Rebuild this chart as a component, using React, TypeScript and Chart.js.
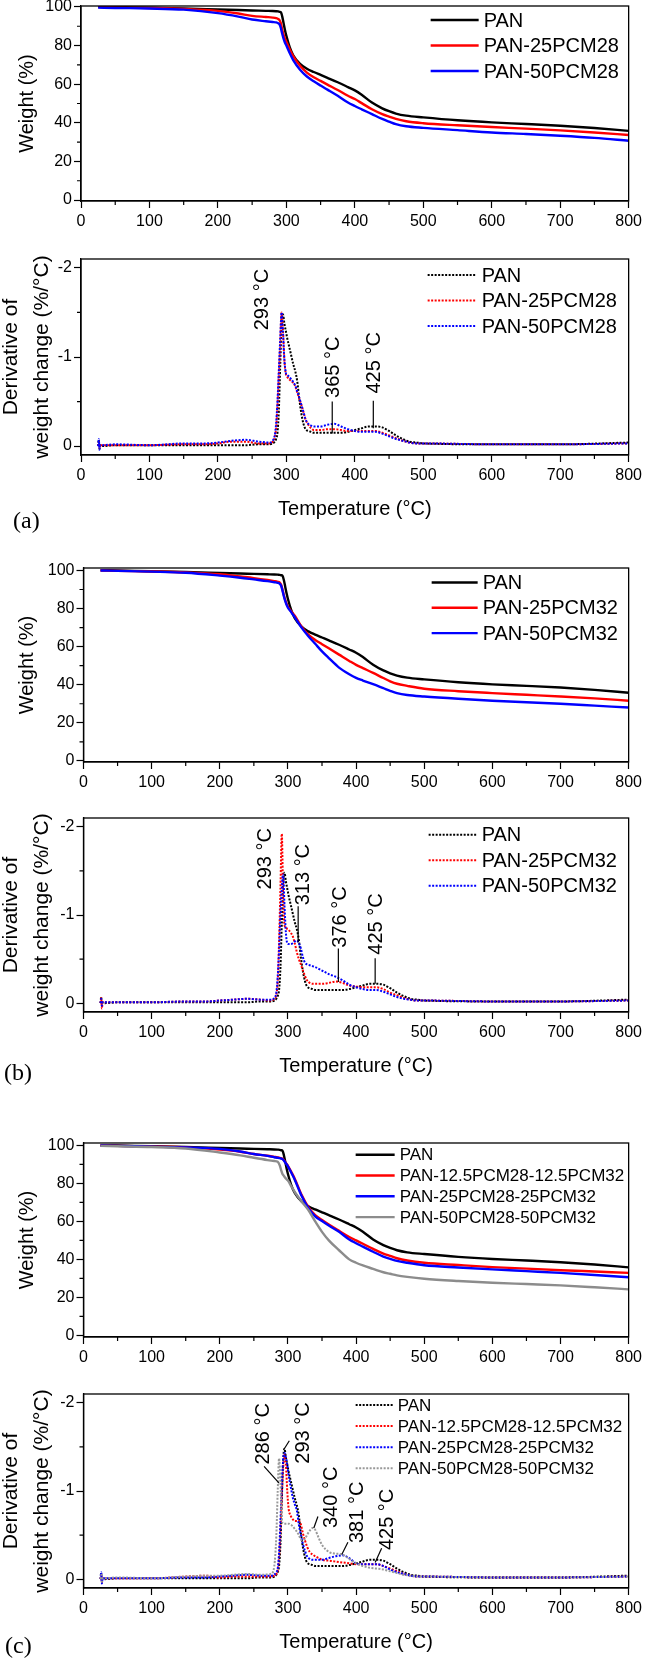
import { useEffect, useRef } from 'react';
import { Chart, registerables } from 'chart.js';

Chart.register(...registerables);

const FONT = '"Liberation Sans", Arial, Helvetica, sans-serif';
Chart.defaults.font.family = FONT;

// temperature grids (°C)
const tempW = [25, 50, 100, 150, 200, 230, 250, 270, 280, 285, 288, 290, 292, 294, 296, 298, 300, 305, 310, 320, 330, 340, 350, 360, 375, 390, 400, 410, 425, 440, 450, 460, 475, 500, 550, 600, 650, 700, 750, 800];
const tempD = [25, 26, 27, 28, 30, 50, 100, 150, 180, 200, 220, 240, 260, 275, 280, 283, 285, 287, 289, 291, 293, 295, 297, 299, 301, 304, 307, 310, 313, 316, 319, 322, 325, 328, 332, 336, 340, 345, 350, 360, 370, 380, 390, 400, 410, 420, 430, 440, 450, 460, 470, 480, 490, 500, 600, 700, 800];

// tick values
const xTicks = [0, 100, 200, 300, 400, 500, 600, 700, 800];
const xMinor = [50, 150, 250, 350, 450, 550, 650, 750];
const weightTicks = [0, 20, 40, 60, 80, 100];
const weightMinor = [10, 30, 50, 70, 90];
const derivTicks = [-2, -1, 0];
const derivMinor = [-1.5, -0.5];

// weight (%)
const wPAN = [100.2, 100, 99.6, 99.2, 98.7, 98.4, 98.2, 98.0, 97.9, 97.8, 97.7, 97.5, 97.2, 95, 91.5, 88, 85, 79, 75, 70.5, 68, 66.3, 64.8, 63.3, 61, 58.5, 56.8, 54.5, 50.5, 47.5, 46, 44.8, 43.7, 42.8, 41.3, 40.2, 39.4, 38.5, 37.3, 35.8];
const w25PCM28 = [100, 99.8, 99.5, 99, 98, 96.6, 95.4, 94.8, 94.5, 94.2, 93.8, 93.2, 91.5, 88, 85.5, 83.5, 82, 78, 74.5, 69.5, 66, 63.6, 61.7, 59.8, 57, 54, 52.3, 50.2, 47, 44.5, 43.2, 42, 40.8, 39.8, 38.7, 37.8, 37, 36.1, 35, 33.7];
const w50PCM28 = [99.7, 99.5, 99.2, 98.6, 96.8, 95, 93.5, 92.6, 92.2, 92, 91.6, 91, 89, 86, 83.5, 81.5, 80, 76, 72.5, 67.5, 64, 61.5, 59.3, 57.2, 54, 50.5, 48.7, 47, 44.5, 42, 40.6, 39.3, 38.2, 37.4, 36.2, 35, 34.2, 33.3, 32.2, 30.7];
const w25PCM32 = [100, 99.8, 99.5, 99, 98, 96.8, 96, 95, 94.4, 94, 93.6, 92.5, 90, 87, 84.5, 82.5, 81, 78.5, 76.3, 70.5, 66.3, 63.5, 61.3, 59.1, 55.8, 52.5, 50.4, 48.7, 46.2, 43.5, 41.8, 40.5, 39.4, 37.9, 36.6, 35.6, 34.7, 33.8, 32.8, 31.6];
const w50PCM32 = [100, 99.8, 99.4, 98.8, 97.3, 96.2, 95.3, 94.4, 93.8, 93.5, 93, 92, 89.5, 86.5, 84, 82, 80.5, 78, 75.5, 70, 65.5, 61.5, 57.5, 54, 49, 45.5, 43.6, 42.2, 40.3, 38.2, 36.8, 35.6, 34.6, 33.8, 32.6, 31.6, 30.8, 30, 29, 28];
const w12Mix = [100, 99.8, 99.4, 99, 97.8, 96.7, 95.5, 94.6, 94, 93.7, 93.5, 93.3, 93, 92.3, 91.3, 90.3, 89.3, 86, 82.5, 74, 67.5, 63.3, 60.7, 58.3, 55, 51.8, 50, 48.2, 45.5, 43, 41.8, 40.6, 39.4, 38.2, 37, 35.9, 35.1, 34.3, 33.6, 32.9];
const w25Mix = [100, 99.8, 99.4, 99, 98.2, 96.8, 95.5, 94.5, 93.8, 93.5, 93.3, 93.1, 92.8, 92.1, 91.1, 90.1, 89, 85.6, 82, 73.5, 67, 62.7, 60.2, 57.8, 54.5, 50.5, 48.5, 46.7, 44, 41.5, 40.3, 39.2, 38.2, 36.9, 35.7, 34.7, 33.8, 32.9, 31.8, 30.6];
const w50Mix = [99.8, 99.6, 99.2, 98.4, 96.3, 94.8, 93.5, 92.3, 91.8, 91.4, 89.5, 87, 85, 84, 83, 82.2, 81.5, 78.5, 75.5, 70.5, 66, 60, 54.5, 50, 44.8, 40, 38.2, 36.8, 35, 33.2, 32.4, 31.6, 30.8, 29.8, 28.6, 27.7, 27, 26.3, 25.3, 24.2];

// derivative of weight change (%/°C)
const dPAN = [0, -0.07, 0.03, -0.01, 0, -0.01, -0.01, -0.01, -0.01, -0.01, -0.01, -0.01, -0.02, -0.02, -0.03, -0.05, -0.08, -0.15, -0.4, -0.9, -1.35, -1.48, -1.38, -1.3, -1.22, -1.12, -1.02, -0.92, -0.84, -0.72, -0.52, -0.36, -0.25, -0.19, -0.17, -0.16, -0.15, -0.15, -0.15, -0.15, -0.15, -0.15, -0.16, -0.18, -0.2, -0.22, -0.22, -0.21, -0.17, -0.12, -0.08, -0.05, -0.04, -0.03, -0.02, -0.02, -0.04];
const d25PCM28 = [0, -0.05, 0.02, -0.01, -0.01, -0.01, -0.01, -0.02, -0.02, -0.03, -0.05, -0.05, -0.03, -0.03, -0.05, -0.1, -0.2, -0.45, -0.8, -1.15, -1.5, -1.3, -0.98, -0.82, -0.78, -0.75, -0.73, -0.71, -0.67, -0.6, -0.53, -0.46, -0.38, -0.3, -0.24, -0.2, -0.18, -0.18, -0.18, -0.19, -0.19, -0.18, -0.17, -0.17, -0.17, -0.17, -0.17, -0.15, -0.12, -0.09, -0.06, -0.04, -0.03, -0.03, -0.02, -0.02, -0.03];
const d50PCM28 = [0, -0.08, 0.04, -0.01, -0.01, -0.02, -0.01, -0.03, -0.03, -0.04, -0.06, -0.07, -0.05, -0.04, -0.06, -0.12, -0.25, -0.5, -0.85, -1.2, -1.5, -1.28, -0.98, -0.83, -0.8, -0.78, -0.75, -0.72, -0.68, -0.61, -0.54, -0.46, -0.38, -0.3, -0.25, -0.23, -0.22, -0.22, -0.22, -0.24, -0.25, -0.22, -0.19, -0.17, -0.16, -0.16, -0.16, -0.14, -0.11, -0.08, -0.06, -0.04, -0.03, -0.03, -0.02, -0.02, -0.03];
const d25PCM32 = [0, -0.06, 0.06, -0.01, -0.01, -0.01, -0.01, -0.02, -0.02, -0.03, -0.04, -0.05, -0.04, -0.03, -0.05, -0.1, -0.25, -0.7, -1.3, -1.92, -1.2, -0.88, -0.86, -0.84, -0.83, -0.8, -0.76, -0.68, -0.58, -0.5, -0.44, -0.37, -0.31, -0.26, -0.23, -0.22, -0.22, -0.22, -0.22, -0.23, -0.245, -0.23, -0.2, -0.19, -0.18, -0.18, -0.18, -0.16, -0.12, -0.09, -0.06, -0.04, -0.03, -0.03, -0.02, -0.02, -0.03];
const d50PCM32 = [0, -0.05, 0.03, -0.01, -0.01, -0.01, -0.01, -0.02, -0.02, -0.03, -0.04, -0.05, -0.04, -0.04, -0.06, -0.12, -0.3, -0.6, -1.0, -1.3, -1.46, -1.1, -0.8, -0.68, -0.67, -0.67, -0.68, -0.7, -0.71, -0.68, -0.62, -0.52, -0.46, -0.44, -0.43, -0.42, -0.41, -0.39, -0.37, -0.33, -0.3, -0.26, -0.21, -0.18, -0.16, -0.15, -0.15, -0.13, -0.1, -0.07, -0.05, -0.04, -0.03, -0.03, -0.02, -0.02, -0.03];
const d12Mix = [0, -0.06, 0.04, -0.01, -0.01, -0.01, -0.01, -0.03, -0.04, -0.02, -0.03, -0.03, -0.03, -0.03, -0.04, -0.06, -0.1, -0.25, -0.55, -0.95, -1.25, -1.41, -1.3, -1.0, -0.8, -0.72, -0.68, -0.66, -0.66, -0.66, -0.62, -0.52, -0.44, -0.37, -0.31, -0.28, -0.26, -0.24, -0.22, -0.21, -0.2, -0.19, -0.18, -0.17, -0.17, -0.17, -0.17, -0.15, -0.12, -0.09, -0.06, -0.04, -0.03, -0.03, -0.02, -0.02, -0.03];
const d25Mix = [0, -0.08, 0.05, -0.01, -0.01, -0.01, -0.01, -0.02, -0.02, -0.03, -0.04, -0.05, -0.04, -0.04, -0.05, -0.08, -0.12, -0.3, -0.65, -1.05, -1.35, -1.43, -1.38, -1.3, -1.18, -1.05, -0.93, -0.85, -0.78, -0.62, -0.5, -0.4, -0.32, -0.26, -0.23, -0.22, -0.22, -0.22, -0.22, -0.24, -0.26, -0.27, -0.24, -0.18, -0.17, -0.17, -0.17, -0.15, -0.11, -0.08, -0.06, -0.04, -0.03, -0.03, -0.02, -0.02, -0.03];
const d50Mix = [0, -0.05, 0.03, -0.01, -0.01, -0.02, -0.01, -0.03, -0.04, -0.04, -0.05, -0.06, -0.05, -0.06, -0.15, -0.5, -1.0, -1.37, -1.1, -0.7, -0.63, -0.63, -0.63, -0.63, -0.63, -0.62, -0.6, -0.57, -0.54, -0.5, -0.45, -0.44, -0.46, -0.5, -0.55, -0.58, -0.56, -0.47, -0.39, -0.31, -0.29, -0.28, -0.23, -0.18, -0.15, -0.13, -0.12, -0.11, -0.09, -0.07, -0.05, -0.04, -0.03, -0.03, -0.02, -0.02, -0.03];

// peak labels: text, text anchor (°C, value), optional leader line [x1, y1, x2, y2]
const notesA = [
  { text: '293 °C', tx: 264, ty: -1.3 },
  { text: '365 °C', tx: 367, ty: -0.54, line: [367, -0.5, 367, -0.14] },
  { text: '425 °C', tx: 427, ty: -0.59, line: [427, -0.51, 427, -0.2] },
];
const notesB = [
  { text: '293 °C', tx: 266, ty: -1.29 },
  { text: '313 °C', tx: 322, ty: -1.11, line: [315, -1.1, 315, -0.69] },
  { text: '376 °C', tx: 375, ty: -0.63, line: [374, -0.62, 374, -0.24] },
  { text: '425 °C', tx: 429, ty: -0.55, line: [428, -0.51, 428, -0.22] },
];
const notesC = [
  { text: '286 °C', tx: 262, ty: -1.3, line: [265, -1.28, 287, -1.09] },
  { text: '293 °C', tx: 321, ty: -1.31, line: [302, -1.57, 294, -1.47] },
  { text: '340 °C', tx: 363, ty: -0.58, line: [344, -0.71, 338, -0.58] },
  { text: '381 °C', tx: 400, ty: -0.41, line: [388, -0.42, 379, -0.28] },
  { text: '425 °C', tx: 444, ty: -0.33, line: [437.5, -0.35, 428, -0.19] },
];

const BLACK = '#000000';
const RED = '#ff0000';
const BLUE = '#0000ff';
const GRAY = '#8c8c8c';

type Series = { label: string; color: string; values: number[] };
type Note = { text: string; tx: number; ty: number; line?: number[] };
type LegendOpts = { dx: number; dy: number; gap: number; len: number; font: number };
type PanelProps = {
  kind: 'w' | 'd';
  temps: number[];
  series: Series[];
  box: number[]; // plot left, right, top, bottom in page pixels
  yRange: number[];
  legend: LegendOpts;
  notes?: Note[];
};

const PAD_TOP = 14;

function TgaPanel({ kind, temps, series, box, yRange, legend, notes }: PanelProps) {
  const chartRef = useRef<HTMLCanvasElement | null>(null);
  const isD = kind === 'd';
  const below = isD ? 66 : 40;
  const [pl, pr, pt, pb] = box;
  const cTop = pt - PAD_TOP;
  const cHeight = Math.round(pb + below - cTop);

  useEffect(() => {
    const ctx = chartRef.current?.getContext('2d');
    if (!ctx) return;

    // box frame + minor ticks
    const framePlugin = {
      id: 'frame',
      afterDraw(chart: any) {
        const { ctx: c, chartArea: a, scales } = chart;
        c.save();
        c.strokeStyle = '#000';
        c.lineWidth = 1.3;
        c.strokeRect(a.left, a.top, a.right - a.left, a.bottom - a.top);
        c.lineWidth = 1.2;
        c.beginPath();
        xMinor.forEach((v) => {
          const x = scales.x.getPixelForValue(v);
          c.moveTo(x, a.bottom);
          c.lineTo(x, a.bottom + 4);
        });
        (isD ? derivMinor : weightMinor).forEach((v) => {
          const y = scales.y.getPixelForValue(v);
          c.moveTo(a.left, y);
          c.lineTo(a.left - 4, y);
        });
        c.stroke();
        c.restore();
      },
    };

    const legendPlugin = {
      id: 'boxLegend',
      afterDraw(chart: any) {
        const { ctx: c, chartArea: a } = chart;
        c.save();
        chart.data.datasets.forEach((ds: any, i: number) => {
          const y = a.top + legend.dy + i * legend.gap;
          const x0 = a.right + legend.dx;
          c.strokeStyle = ds.borderColor;
          c.lineWidth = ds.borderWidth;
          c.setLineDash(ds.borderDash || []);
          c.beginPath();
          c.moveTo(x0, y);
          c.lineTo(x0 + legend.len, y);
          c.stroke();
          c.setLineDash([]);
          c.fillStyle = '#000';
          c.font = `${legend.font}px ${FONT}`;
          c.textAlign = 'left';
          c.textBaseline = 'middle';
          c.fillText(ds.label, x0 + legend.len + 5, y + 1);
        });
        c.restore();
      },
    };

    const notesPlugin = {
      id: 'peakNotes',
      afterDatasetsDraw(chart: any) {
        if (!notes) return;
        const { ctx: c, scales } = chart;
        const sx = scales.x;
        const sy = scales.y;
        c.save();
        notes.forEach((n) => {
          if (n.line) {
            c.strokeStyle = '#000';
            c.lineWidth = 1.2;
            c.beginPath();
            c.moveTo(sx.getPixelForValue(n.line[0]), sy.getPixelForValue(n.line[1]));
            c.lineTo(sx.getPixelForValue(n.line[2]), sy.getPixelForValue(n.line[3]));
            c.stroke();
          }
          c.save();
          c.translate(sx.getPixelForValue(n.tx), sy.getPixelForValue(n.ty));
          c.rotate(-Math.PI / 2);
          c.fillStyle = '#000';
          c.font = `20px ${FONT}`;
          c.textAlign = 'left';
          c.textBaseline = 'middle';
          c.fillText(n.text, 0, 1);
          c.restore();
        });
        c.restore();
      },
    };

    const config: any = {
      type: 'line',
      data: {
        datasets: series.map((s, i) => ({
          label: s.label,
          data: temps.map((t, j) => ({ x: t, y: s.values[j] })),
          borderColor: s.color,
          borderWidth: isD ? 2 : 2.4,
          borderDash: isD ? [2, 1.5] : [],
          pointRadius: 0,
          cubicInterpolationMode: 'monotone',
          order: -i,
        })),
      },
      options: {
        animation: false,
        responsive: false,
        events: [],
        layout: { padding: { top: PAD_TOP, left: 0, right: 646 - pr, bottom: 0 } },
        plugins: { legend: { display: false }, tooltip: { enabled: false } },
        scales: {
          x: {
            type: 'linear',
            min: 0,
            max: 800,
            afterBuildTicks: (s: any) => {
              s.ticks = xTicks.map((v) => ({ value: v }));
            },
            afterFit: (s: any) => {
              s.height = below;
            },
            grid: { drawOnChartArea: false, drawTicks: true, tickLength: 7, tickColor: '#000', tickWidth: 1.2 },
            border: { display: true, color: '#000', width: 1.3 },
            ticks: { color: '#000', font: { family: FONT, size: 16 }, padding: 4, maxRotation: 0, autoSkip: false },
            title: isD
              ? {
                  display: true,
                  text: 'Temperature (°C)',
                  color: '#000',
                  font: { family: FONT, size: 20, lineHeight: 1.2 },
                  padding: { top: 0, bottom: 0 },
                }
              : { display: false },
          },
          y: {
            type: 'linear',
            min: yRange[0],
            max: yRange[1],
            reverse: isD,
            afterBuildTicks: (s: any) => {
              s.ticks = (isD ? derivTicks : weightTicks).map((v) => ({ value: v }));
            },
            afterFit: (s: any) => {
              s.width = pl;
            },
            grid: { drawOnChartArea: false, drawTicks: true, tickLength: 7, tickColor: '#000', tickWidth: 1.2 },
            border: { display: true, color: '#000', width: 1.3 },
            ticks: { color: '#000', font: { family: FONT, size: 16 }, padding: 2, autoSkip: false },
            title: isD
              ? {
                  display: true,
                  text: ['Derivative of', 'weight change (%/°C)'],
                  color: '#000',
                  font: { family: FONT, size: 21, lineHeight: 1.5 },
                  padding: { top: -5, bottom: 0 },
                }
              : {
                  display: true,
                  text: 'Weight (%)',
                  color: '#000',
                  font: { family: FONT, size: 20, lineHeight: 1.2 },
                  padding: { top: 15, bottom: 0 },
                },
          },
        },
      },
      plugins: [framePlugin, legendPlugin, notesPlugin],
    };

    const myChart = new Chart(ctx, config);
    return () => {
      myChart.destroy();
    };
  }, []);

  return (
    <canvas
      ref={chartRef}
      width={646}
      height={cHeight}
      style={{ position: 'absolute', left: 0, top: cTop, width: 646, height: cHeight }}
    />
  );
}

const labelStyle = {
  position: 'absolute' as const,
  fontFamily: '"Liberation Serif", "Times New Roman", serif',
  fontSize: 24,
  lineHeight: '24px',
  color: '#000',
};

export default function App() {
  return (
    <div style={{ position: 'absolute', left: 0, top: 0, width: 646, height: 1658, background: '#fff', overflow: 'hidden' }}>
      <TgaPanel
        kind="w"
        temps={tempW}
        series={[
          { label: 'PAN', color: BLACK, values: wPAN },
          { label: 'PAN-25PCM28', color: RED, values: w25PCM28 },
          { label: 'PAN-50PCM28', color: BLUE, values: w50PCM28 },
        ]}
        box={[81, 630, 6, 201]}
        yRange={[-0.5, 100.5]}
        legend={{ dx: -198, dy: 14, gap: 25.5, len: 48, font: 20 }}
      />
      <TgaPanel
        kind="d"
        temps={tempD}
        series={[
          { label: 'PAN', color: BLACK, values: dPAN },
          { label: 'PAN-25PCM28', color: RED, values: d25PCM28 },
          { label: 'PAN-50PCM28', color: BLUE, values: d50PCM28 },
        ]}
        box={[81, 630, 259, 455]}
        yRange={[-2.1, 0.1]}
        legend={{ dx: -201, dy: 16, gap: 25.5, len: 49, font: 20 }}
        notes={notesA}
      />
      <div style={{ ...labelStyle, left: 13, top: 508 }}>(a)</div>

      <TgaPanel
        kind="w"
        temps={tempW}
        series={[
          { label: 'PAN', color: BLACK, values: wPAN },
          { label: 'PAN-25PCM32', color: RED, values: w25PCM32 },
          { label: 'PAN-50PCM32', color: BLUE, values: w50PCM32 },
        ]}
        box={[83.5, 631.5, 568.3, 762]}
        yRange={[-0.6, 101.3]}
        legend={{ dx: -197, dy: 14.5, gap: 25.3, len: 46, font: 20 }}
      />
      <TgaPanel
        kind="d"
        temps={tempD}
        series={[
          { label: 'PAN', color: BLACK, values: dPAN },
          { label: 'PAN-25PCM32', color: RED, values: d25PCM32 },
          { label: 'PAN-50PCM32', color: BLUE, values: d50PCM32 },
        ]}
        box={[83.5, 631.5, 818.3, 1012.7]}
        yRange={[-2.1, 0.1]}
        legend={{ dx: -200, dy: 16.7, gap: 25.5, len: 48, font: 20 }}
        notes={notesB}
      />
      <div style={{ ...labelStyle, left: 4, top: 1060 }}>(b)</div>

      <TgaPanel
        kind="w"
        temps={tempW}
        series={[
          { label: 'PAN', color: BLACK, values: wPAN },
          { label: 'PAN-12.5PCM28-12.5PCM32', color: RED, values: w12Mix },
          { label: 'PAN-25PCM28-25PCM32', color: BLUE, values: w25Mix },
          { label: 'PAN-50PCM28-50PCM32', color: GRAY, values: w50Mix },
        ]}
        box={[83.5, 631.5, 1143.3, 1337.7]}
        yRange={[-0.9, 101.3]}
        legend={{ dx: -273, dy: 11.7, gap: 20.8, len: 39, font: 17 }}
      />
      <TgaPanel
        kind="d"
        temps={tempD}
        series={[
          { label: 'PAN', color: BLACK, values: dPAN },
          { label: 'PAN-12.5PCM28-12.5PCM32', color: RED, values: d12Mix },
          { label: 'PAN-25PCM28-25PCM32', color: BLUE, values: d25Mix },
          { label: 'PAN-50PCM28-50PCM32', color: '#999999', values: d50Mix },
        ]}
        box={[83.5, 631.5, 1394, 1588]}
        yRange={[-2.1, 0.1]}
        legend={{ dx: -273, dy: 11, gap: 21.1, len: 37, font: 17 }}
        notes={notesC}
      />
      <div style={{ ...labelStyle, left: 5, top: 1633 }}>(c)</div>
    </div>
  );
}
